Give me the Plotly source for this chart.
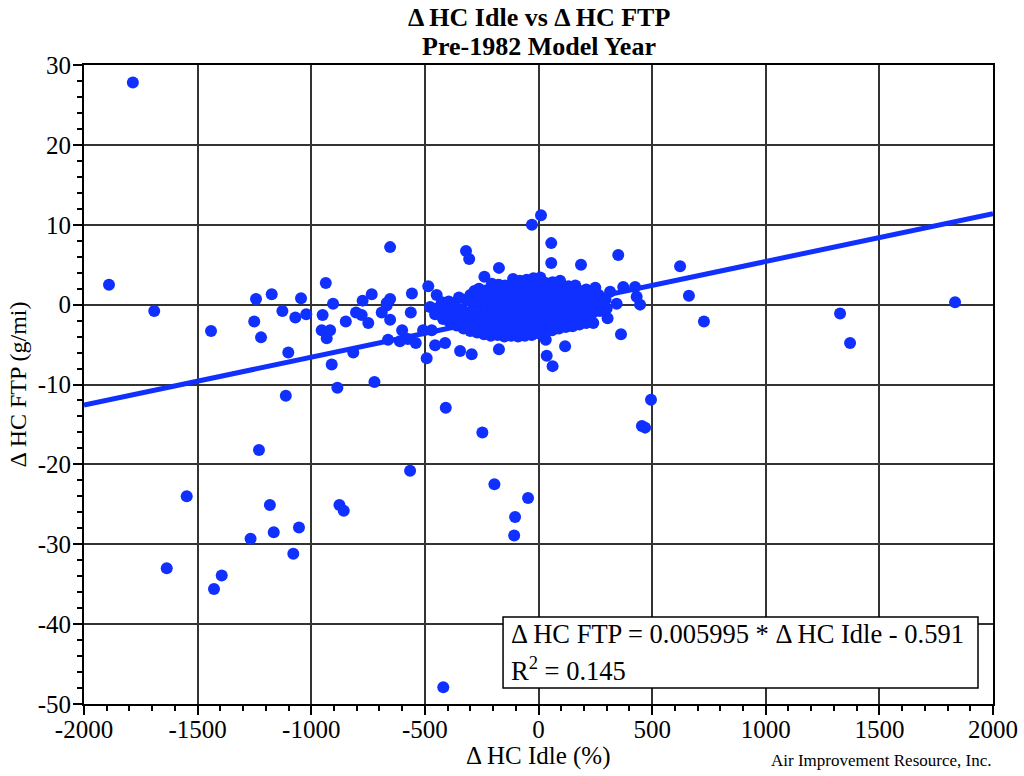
import plotly.graph_objects as go

# Outlying vehicles: change in idle HC (%) vs change in FTP HC (g/mi)
idle_outer = [-1785, -1890, -1691, -1441, -1243, -1174, -1251, -1221, -1127, -1070,
              -1045, -1022, -1101, -936, -904, -950, -954, -917, -932, -848,
              -803, -778, -749, -774, -734, -815, -910, -1112, -885, -722,
              -1230, -408, -1548, -1182, -1165, -1267, -1054, -1079, -876, -857,
              -565, -1636, -1394, -1428, -419, -247, -194, -107, -103, -46,
              455, 469, 495, 623, 662, 728, 1327, 1371, 1833, -653,
              11, -29, 56, 56, 351, -319, -305, 187, -174, -238,
              -282, -557, -653, -668, -562, -485, -477, -492, -345, -294,
              -174, 32, 117, 36, 62, 241, 304, 363, 447, 344,
              432, 373, 425, 315, -448, -668, -653, -662, -610, -575,
              -540, -508, -455, -411, -470, -690, -600]
ftp_outer = [27.8, 2.5, -0.8, -3.3, 0.7, 1.3, -2.1, -4.1, -0.8, -1.6,
             0.8, -1.2, -6.0, 2.7, 0.1, -1.3, -3.2, -3.2, -4.2, -2.1,
             -1.0, -1.3, -2.3, 0.5, 1.3, -6.0, -7.5, -11.4, -10.4, -9.7,
             -18.2, -12.9, -24.0, -25.1, -28.5, -29.3, -27.9, -31.2, -25.1, -25.8,
             -20.8, -33.0, -33.9, -35.6, -47.9, -16.0, -22.5, -28.9, -26.6, -24.2,
             -15.2, -15.4, -11.9, 4.8, 1.1, -2.1, -1.1, -4.8, 0.3, 7.2,
             11.2, 10.0, 7.7, 5.2, 6.2, 6.7, 5.7, 5.0, 4.6, 3.5,
             1.7, 1.4, 0.7, -0.1, -1.0, 2.3, -0.3, -6.7, -5.8, -6.2,
             -5.6, -4.4, -5.2, -6.4, -7.7, -2.3, -1.7, -3.7, 0.0, 0.1,
             1.0, 2.2, 2.2, 1.6, 1.2, 0.2, -1.9, -4.4, -4.6, -4.3,
             -4.8, -3.2, -5.1, -4.8, -3.2, -1.0, -3.2]

# Dense core of the sample around zero change
idle_core = [-455, -440, -420, -415, -425, -390, -385, -395, -360, -355, -365, -350,
             -330, -325, -335, -320, -300, -295, -305, -290, -300,
             -270, -265, -275, -260, -270, -262, -240, -235, -245, -230, -240, -228,
             -210, -205, -215, -200, -210, -198, -205, -180, -175, -185, -170, -180, -168, -175,
             -150, -145, -155, -140, -150, -138, -148,
             -120, -115, -125, -110, -120, -108, -118, -112,
             -90, -85, -95, -80, -90, -78, -88, -82,
             -60, -55, -65, -50, -60, -48, -58, -52,
             -30, -25, -35, -20, -30, -18, -28, -22,
             0, 5, -5, 10, 0, 12, 2, 8,
             30, 35, 25, 40, 30, 42, 32,
             60, 65, 55, 70, 60, 72, 62,
             90, 95, 85, 100, 90, 102, 95,
             120, 125, 115, 130, 120, 132,
             150, 155, 145, 160, 150, 162,
             180, 185, 175, 190, 180,
             210, 215, 205, 220, 210,
             240, 245, 235, 250, 270, 275, 265, 300, 295]
ftp_core = [-1.2, -0.4, -1.8, -0.6, 0.3, -2.2, -0.9, 0.4, -2.6, -1.4, -0.2, 0.9,
            -3.0, -1.8, -0.6, 0.6, -3.3, -2.1, -1.0, 0.2, 1.2,
            -3.5, -2.4, -1.3, -0.2, 0.9, 2.0, -3.7, -2.6, -1.5, -0.4, 0.7, 1.8,
            -3.9, -2.7, -1.6, -0.5, 0.6, 1.7, 2.6, -3.8, -2.8, -1.8, -0.7, 0.4, 1.5, 2.5,
            -4.0, -2.9, -1.9, -0.8, 0.3, 1.3, 2.4,
            -3.9, -3.0, -2.0, -0.9, 0.2, 1.2, 2.2, 3.2,
            -4.0, -3.0, -2.0, -1.0, 0.1, 1.1, 2.1, 3.0,
            -3.9, -2.9, -1.9, -0.9, 0.2, 1.2, 2.2, 3.1,
            -3.8, -2.8, -1.8, -0.8, 0.3, 1.3, 2.3, 3.3,
            -3.6, -2.6, -1.6, -0.6, 0.5, 1.5, 2.5, 3.4,
            -3.4, -2.4, -1.4, -0.4, 0.7, 1.7, 2.7,
            -3.2, -2.2, -1.2, -0.2, 0.9, 1.9, 2.8,
            -3.0, -2.0, -1.0, 0.0, 1.1, 2.1, 3.0,
            -2.8, -1.8, -0.8, 0.2, 1.3, 2.3,
            -2.7, -1.6, -0.6, 0.4, 1.5, 2.4,
            -2.5, -1.4, -0.4, 0.6, 1.7,
            -2.3, -1.2, -0.2, 0.8, 1.9,
            -1.0, 0.0, 1.0, 2.1, -0.8, 0.3, 1.2, -0.5, 0.6]

idle_vals = idle_outer + idle_core
ftp_vals = ftp_outer + ftp_core

# Axis ticks (plain hyphen for negatives)
x_ticks = [-2000, -1500, -1000, -500, 0, 500, 1000, 1500, 2000]
x_labels = ["-2000", "-1500", "-1000", "-500", "0", "500", "1000", "1500", "2000"]
y_ticks = [-50, -40, -30, -20, -10, 0, 10, 20, 30]
y_labels = ["-50", "-40", "-30", "-20", "-10", "0", "10", "20", "30"]

# Least-squares fit quoted in the annotation
slope = 0.005995
intercept = -0.591
r_squared = 0.145
fit_x = [-2000, 2000]
fit_y = [slope * v + intercept for v in fit_x]

blue = "#1030ff"
serif = "Liberation Serif, Times New Roman, serif"

fig = go.Figure()
fig.add_trace(go.Scatter(x=idle_vals, y=ftp_vals, mode="markers",
                         marker=dict(color=blue, size=12, line=dict(width=0)),
                         showlegend=False, hoverinfo="x+y"))
fig.add_trace(go.Scatter(x=fit_x, y=fit_y, mode="lines",
                         line=dict(color=blue, width=5), showlegend=False))

axis_common = dict(showline=True, linecolor="black", linewidth=2, mirror=True,
                   showgrid=True, gridcolor="#333333", gridwidth=1.5,
                   zeroline=False, ticks="outside", ticklen=9, tickwidth=1.5,
                   tickcolor="black", automargin=False,
                   tickfont=dict(family=serif, size=25, color="black"))

fig.update_xaxes(range=[-2000, 2000], tickmode="array", tickvals=x_ticks, ticktext=x_labels,
                 ticklabelstandoff=-7,
                 minor=dict(dtick=100, tick0=0, ticks="outside", ticklen=5, tickwidth=1.5,
                            tickcolor="black", showgrid=False),
                 **axis_common)
fig.update_yaxes(range=[-50, 30], tickmode="array", tickvals=y_ticks, ticktext=y_labels,
                 ticklabelstandoff=-3,
                 minor=dict(dtick=2, tick0=0, ticks="outside", ticklen=5, tickwidth=1.5,
                            tickcolor="black", showgrid=False),
                 title=dict(text="Δ HC FTP (g/mi)", font=dict(family=serif, size=24, color="black"),
                            standoff=4),
                 **axis_common)

# Horizontal axis caption
fig.add_annotation(xref="paper", yref="paper", x=0.5, y=-0.081, xanchor="center", yanchor="middle",
                   text="Δ HC Idle (%)", showarrow=False,
                   font=dict(family=serif, size=25, color="black"))

# Box around the regression equation
fig.add_shape(type="rect", xref="x", yref="y", x0=-156, x1=1934, y0=-48.0, y1=-39.1,
              line=dict(color="black", width=1.5), fillcolor="white", layer="above")
fig.add_annotation(xref="x", yref="y", x=-130, y=-41.2, xanchor="left", yanchor="middle",
                   text="Δ HC FTP = %.6f * Δ HC Idle - %.3f" % (slope, -intercept),
                   showarrow=False, font=dict(family=serif, size=26.5, color="black"))
fig.add_annotation(xref="x", yref="y", x=-130, y=-45.6, xanchor="left", yanchor="middle",
                   text="R<sup>2</sup> = %.3f" % r_squared,
                   showarrow=False, font=dict(family=serif, size=26.5, color="black"))

# Two-line heading
fig.add_annotation(xref="paper", yref="paper", x=0.5, y=1.075, xanchor="center", yanchor="middle",
                   text="<b>Δ HC Idle vs Δ HC FTP</b>", showarrow=False,
                   font=dict(family=serif, size=26, color="black"))
fig.add_annotation(xref="paper", yref="paper", x=0.5, y=1.0297, xanchor="center", yanchor="middle",
                   text="<b>Pre-1982 Model Year</b>", showarrow=False,
                   font=dict(family=serif, size=26, color="black"))

fig.add_annotation(xref="paper", yref="paper", x=1.0, y=-0.089, xanchor="right", yanchor="middle",
                   text="Air Improvement Resource, Inc.", showarrow=False,
                   font=dict(family=serif, size=17, color="black"))

fig.update_layout(
    width=1024, height=776,
    margin=dict(l=84, r=31, t=65, b=72),
    paper_bgcolor="white", plot_bgcolor="white",
)

fig.write_html("out.html")
